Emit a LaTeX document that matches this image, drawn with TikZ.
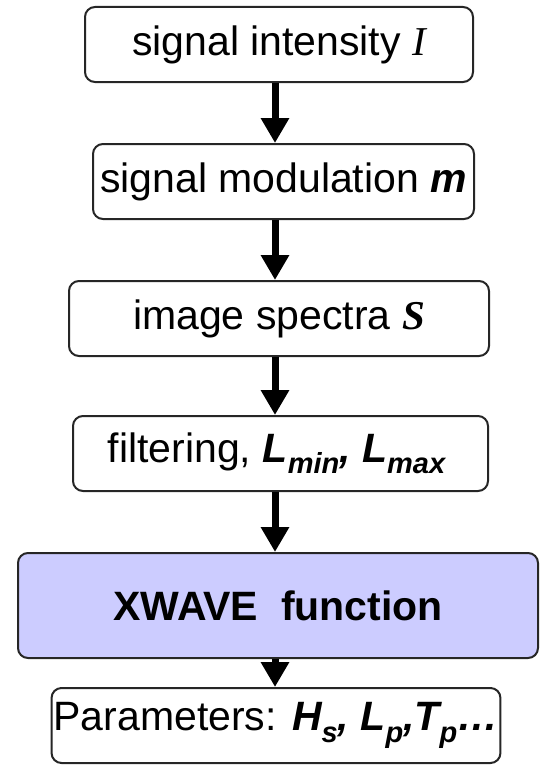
\documentclass[tikz,border=0pt]{standalone}
\usepackage{fontspec}
\setmainfont{Liberation Sans}
\newfontfamily\serifit{Liberation Serif}
\usetikzlibrary{arrows.meta, positioning, calc}
\definecolor{xwaveblue}{RGB}{204,204,255}
\newcommand{\lowsub}[1]{\raisebox{-0.28em}{\fontsize{29}{29}\selectfont #1}}

\begin{document}
\begin{tikzpicture}[
  x=1pt, y=-1pt,
  stepbox/.style={draw=black!85, line width=2pt, rounded corners=10pt,
              fill=white, font=\fontsize{41}{49}\selectfont,
              minimum height=75pt, inner sep=2pt},
  funcbox/.style={stepbox, fill=xwaveblue,
              font=\fontsize{41}{49}\selectfont\bfseries,
              minimum height=105pt},
  arr/.style={-{Triangle[width=27pt, length=25pt]}, line width=7pt},
]
\useasboundingbox (0,0) rectangle (551,768);

% ── processing chain ─────────────────────────────────────────
\node[stepbox, minimum width=388pt] (intensity) at (279,44.5)
  {signal intensity {\serifit\itshape I}};
\node[stepbox, minimum width=381pt] (modulation) at (283.5,181.5)
  {signal modulation \textbf{\textit{m}}};
\node[stepbox, minimum width=420pt] (spectra) at (279,318.5)
  {image spectra {\serifit\bfseries\itshape S}};
\node[stepbox, minimum width=415pt] (filtering) at (280.5,453.5)
  {filtering, {\bfseries\itshape L\lowsub{min}, L\lowsub{max}}\hspace*{8pt}};

\node[funcbox, minimum width=520pt] (xwave) at (278,605.5)
  {XWAVE\ \ function};

\node[stepbox, minimum width=446pt] (params) at (276,725.5)
  {Parameters: {\bfseries\itshape H\lowsub{s}, L\lowsub{p},T\lowsub{p}…}};

% ── arrows ───────────────────────────────────────────────────
\coordinate (axis) at (275,0);
\draw[arr] (intensity.south -| axis) -- (modulation.north -| axis);
\draw[arr] (modulation.south -| axis) -- (spectra.north -| axis);
\draw[arr] (spectra.south -| axis) -- (filtering.north -| axis);
\draw[arr] (filtering.south -| axis) -- (xwave.north -| axis);
\draw[arr] (xwave.south -| axis) -- (params.north -| axis);

\end{tikzpicture}
\end{document}
